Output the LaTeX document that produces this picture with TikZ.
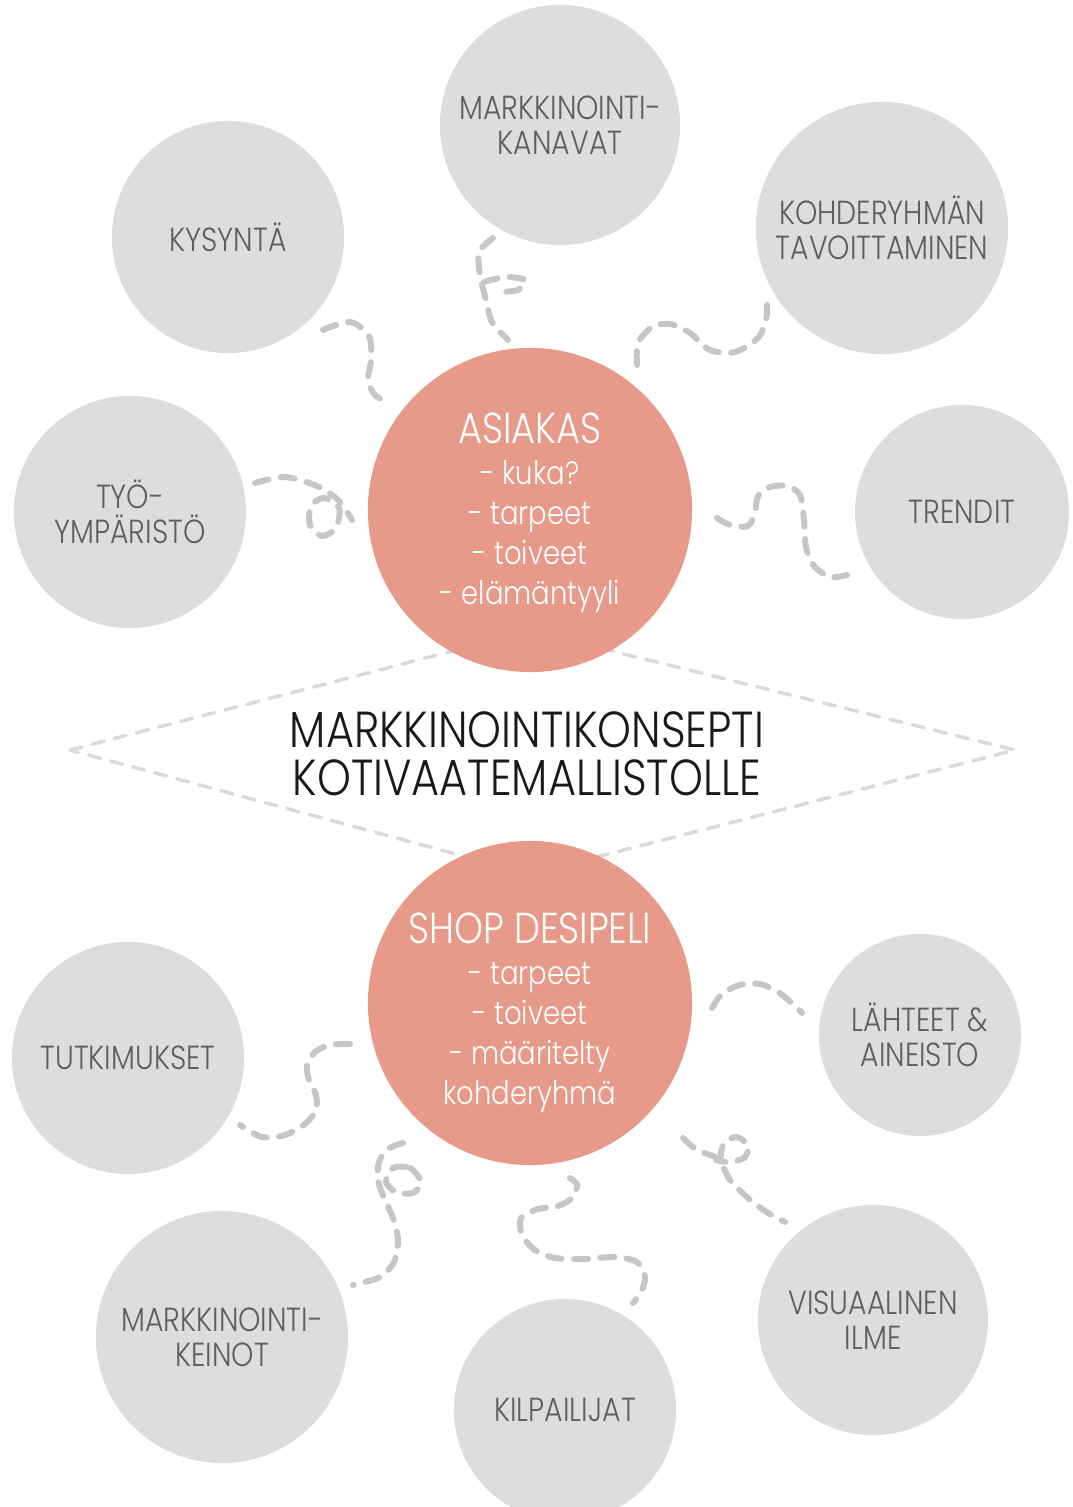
\documentclass[tikz,border=0pt]{standalone}
\usepackage{fontspec}
\setmainfont{Poppins Light}[FakeStretch=0.85]
\usetikzlibrary{positioning}
\definecolor{bubble}{HTML}{DDDDDD}
\definecolor{salmon}{HTML}{E79A89}
\definecolor{labelgray}{HTML}{5E5E5E}
\definecolor{dashgray}{HTML}{C6C6C6}
\definecolor{diamgray}{HTML}{DADADA}
\newcommand{\corehead}[1]{{\fontsize{12.3}{11.4}\selectfont #1}}

\begin{document}
\begin{tikzpicture}[x=0.01cm, y=-0.01cm]
  \tikzstyle{topic}=[circle, fill=bubble, draw=none, inner sep=0pt, text=labelgray, align=center, font=\fontsize{9.5}{10}\selectfont]
  \tikzstyle{core}=[circle, fill=salmon, draw=none, inner sep=0pt, minimum size=3.24cm]
  \tikzstyle{coretext}=[inner sep=0pt, text=white, align=center, font=\fontsize{9.2}{11.4}\selectfont]
  \tikzstyle{squiggle}=[dashgray, line width=1.7pt, line cap=round, dash pattern=on 4pt off 3.5pt]
  \tikzstyle{frame}=[diamgray, line width=1pt, line cap=round, dash pattern=on 3.5pt off 3pt]
  \useasboundingbox (0,0) rectangle (1072,1507);

  % dashed frame behind the title
  \draw[frame] (70,750) -- (530,631) -- (1015,750) -- (530,874) -- cycle;
  \node[font=\fontsize{14.4}{13.8}\selectfont, text=black!90, align=center] (title) at (527,754)
    {MARKKINOINTIKONSEPTI\\KOTIVAATEMALLISTOLLE};

  % centre circles
  \node[core] (asiakas) at (530,510) {};
  \node[coretext] (asiakastext) at (530,513) {\corehead{ASIAKAS}\\- kuka?\\- tarpeet\\- toiveet\\- elämäntyyli};
  \node[core] (shop) at (530,1003) {};
  \node[coretext] (shoptext) at (530,1013) {\corehead{SHOP DESIPELI}\\- tarpeet\\- toiveet\\- määritelty\\kohderyhmä};

  % upper topics
  \node[topic, minimum size=2.4cm]  (kanavat) at (560,125) {MARKKINOINTI-\\KANAVAT};
  \node[topic, minimum size=2.32cm] (kysynta) at (228,237) {KYSYNTÄ};
  \node[topic, minimum size=2.52cm] (kohde) at (882,228) {KOHDERYHMÄN\\TAVOITTAMINEN};
  \node[topic, minimum size=2.32cm] (tyo) at (130,512) {TYÖ-\\YMPÄRISTÖ};
  \node[topic, minimum size=2.14cm] (trendit) at (962,512) {TRENDIT};

  % lower topics
  \node[topic, minimum size=2.32cm] (tutkimukset) at (128,1058) {TUTKIMUKSET};
  \node[topic, minimum size=2.02cm] (lahteet) at (920,1035) {LÄHTEET \&\\AINEISTO};
  \node[topic, minimum size=2.52cm] (keinot) at (222,1337) {MARKKINOINTI-\\KEINOT};
  \node[topic, minimum size=2.22cm] (kilpailijat) at (565,1410) {KILPAILIJAT};
  \node[topic, minimum size=2.3cm]  (visuaalinen) at (873,1320) {VISUAALINEN\\ILME};

  % squiggles round ASIAKAS
  \draw[squiggle] plot[smooth] coordinates {(323,330) (350,322) (369,336) (371,360) (368,380) (375,395) (388,402)};
  \draw[squiggle] plot[smooth] coordinates {(493,238) (479,252) (480,275) (486,300) (492,322) (508,340)};
  \draw[squiggle] plot[smooth] coordinates {(484,282) (505,277) (525,280) (518,290) (498,292)};
  \draw[squiggle] plot[smooth] coordinates {(637,365) (638,343) (652,327) (670,324) (690,333) (710,350) (735,352) (758,338) (766,320) (767,305)};
  \draw[squiggle] plot[smooth] coordinates {(255,483) (285,477) (317,486) (338,500) (352,520)};
  \draw[squiggle] plot[smooth cycle] coordinates {(324,498) (339,508) (336,528) (322,536) (310,525) (311,506)};
  \draw[squiggle] plot[smooth] coordinates {(717,518) (730,525) (748,526) (755,512) (758,496) (770,487) (787,486) (800,495) (804,520) (806,547) (814,566) (830,577) (847,575)};

  % squiggles round SHOP DESIPELI
  \draw[squiggle] plot[smooth] coordinates {(350,1044) (330,1045) (315,1052) (307,1066) (309,1080) (316,1095) (316,1110) (305,1124) (285,1135) (262,1137) (240,1125)};
  \draw[squiggle] plot[smooth] coordinates {(403,1143) (388,1149) (379,1162) (378,1180) (384,1198) (393,1218) (398,1240) (394,1262) (380,1277) (353,1285)};
  \draw[squiggle] plot[smooth cycle] coordinates {(393,1168) (410,1168) (421,1182) (413,1193) (396,1192) (386,1182)};
  \draw[squiggle] plot[smooth] coordinates {(570,1178) (577,1185) (572,1198) (558,1206) (538,1209) (521,1218) (522,1235) (535,1250) (555,1258) (585,1259) (615,1257) (637,1262) (645,1277) (641,1292) (633,1303)};
  \draw[squiggle] plot[smooth] coordinates {(712,1008) (722,994) (740,985) (760,984) (778,992) (792,1003) (802,1013)};
  \draw[squiggle] plot[smooth] coordinates {(683,1138) (697,1150) (718,1159) (730,1180) (748,1198) (765,1211) (785,1222)};
  \draw[squiggle] plot[smooth] coordinates {(720,1160) (724,1143) (737,1137) (748,1146) (744,1158) (728,1162) (716,1160)};
\end{tikzpicture}
\end{document}
